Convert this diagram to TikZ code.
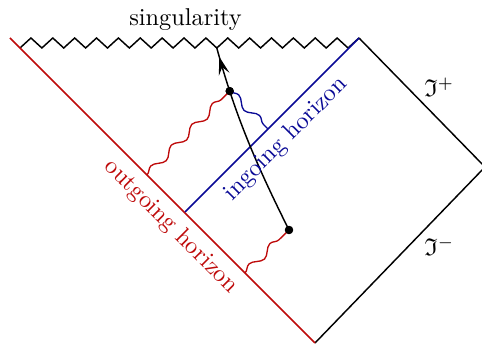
\documentclass[tikz,border=0pt]{standalone}
\usepackage{amssymb}
\usetikzlibrary{decorations.pathmorphing,decorations.markings,arrows.meta}
\definecolor{hred}{RGB}{190,10,10}
\definecolor{hblue}{RGB}{10,10,150}
\tikzset{
  bnd/.style={line width=0.6pt, line join=miter},
  horout/.style={draw=hred, line width=0.7pt},
  horin/.style={draw=hblue, line width=0.6pt},
  wave/.style={decorate, decoration={snake, segment length=12pt, amplitude=1.5pt, post length=0.5pt}, line width=0.55pt},
  dotnode/.style={circle, fill=black, inner sep=0pt, minimum size=3.4pt},
  worldline/.style={line width=0.6pt},
  arrowmark/.style={postaction={decorate}, decoration={markings, mark=at position 0.8 with {\arrow{Stealth[length=7.5pt, width=4.5pt, inset=3pt]}}}}
}
\begin{document}
\begin{tikzpicture}[x=0.411pt, y=-0.411pt]
\useasboundingbox (0,0) rectangle (482,344);
% corners
\coordinate (L) at (10,38);
\coordinate (B) at (315,343);
\coordinate (T) at (359,38);
\coordinate (R) at (485,167);
\coordinate (J) at (185,212);
\coordinate (Z0) at (20,48);
\coordinate (S) at (216.8,48);
% boundary
\draw[bnd] (Z0) \foreach \i in {1,...,15}{ -- ++(10.935,-10) -- ++(10.935,10) } -- ++(10.935,-10);
\draw[bnd] (T) -- (R) -- (B);
\draw[horout] (L) -- (B);
\draw[horin] (T) -- (J);
% points
\node[dotnode] (P) at (289,230) {};
\node[dotnode] (Q) at (229.7,91.1) {};
% horizon hit points
\coordinate (W1) at (147,175);
\coordinate (W2) at (268,129);
\coordinate (W3) at (245,273);
% worldline
\draw[worldline] (P.center) .. controls (264,180) and (244.9,137.6) .. (Q.center);
\draw[worldline, arrowmark] (Q.center) .. controls (225.1,77.2) and (220.9,63) .. (S);
% waves
\draw[wave, hred] (W1) -- (Q.center);
\draw[wave, hblue] (Q.center) -- (W2);
\draw[wave, hred] (W3) -- (P.center);
\node[dotnode] at (P) {};
\node[dotnode] at (Q) {};
% labels
\node[anchor=base] (sing) at (185.5,25.5) {singularity};
\node[hred, rotate=-45] (outl) at (171,226.5) {outgoing horizon};
\node[hblue, rotate=45] (inl) at (286,139) {ingoing horizon};
\node[anchor=base west, inner sep=0pt] (scrip) at (424,97) {$\mathfrak{I}^+$};
\node[anchor=base west, inner sep=0pt] (scrim) at (424,256) {$\mathfrak{I}^-$};
\end{tikzpicture}
\end{document}
